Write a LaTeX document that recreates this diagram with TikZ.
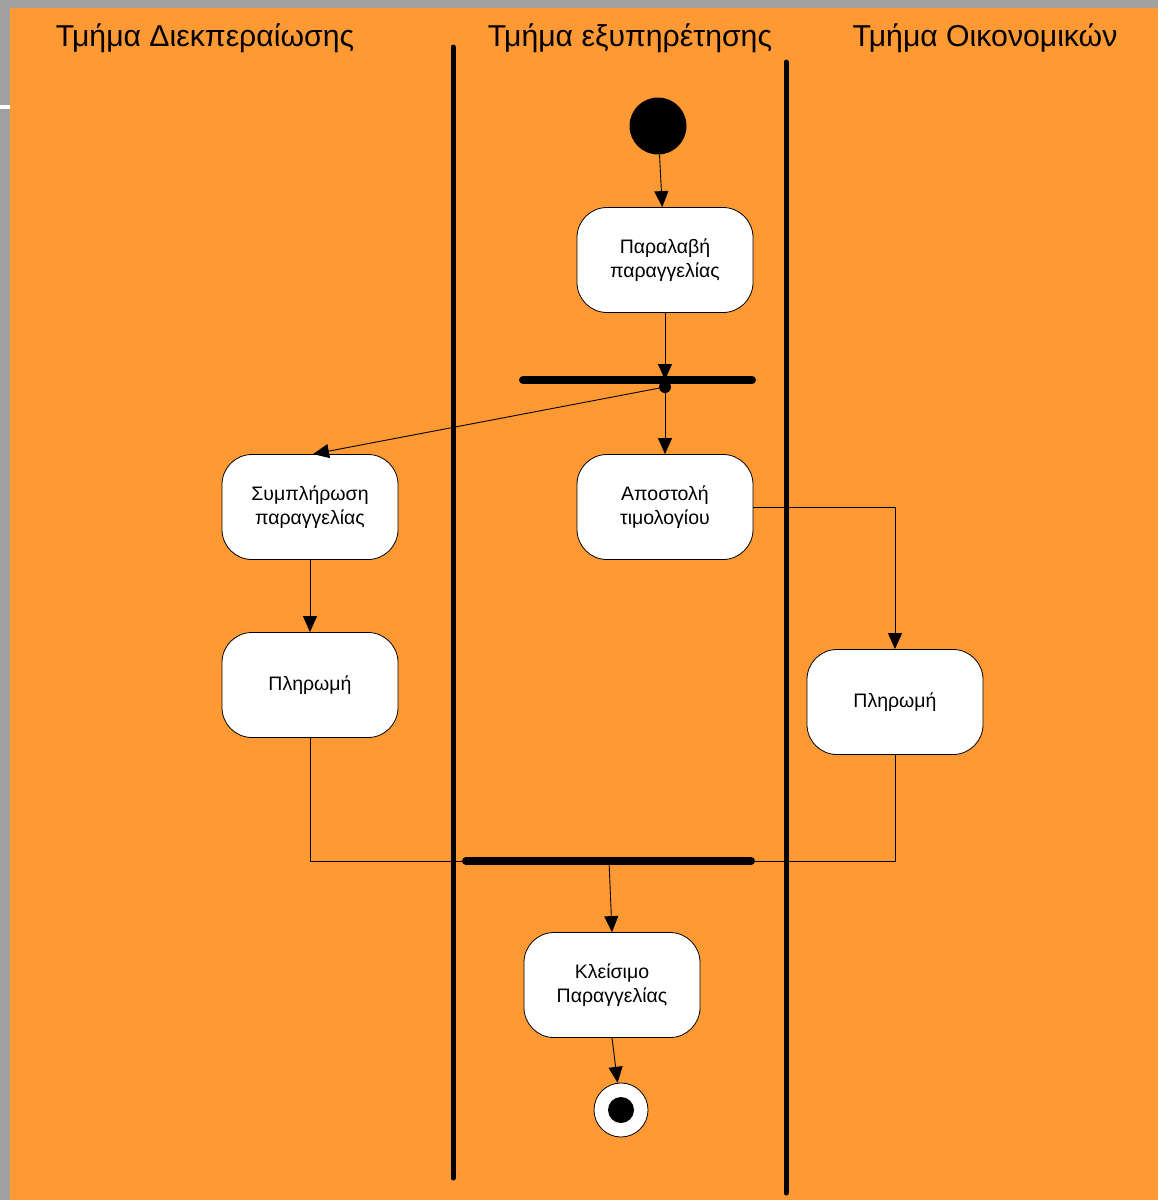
\documentclass[tikz,border=0pt]{standalone}
\usepackage{fontspec}
\setmainfont{Liberation Sans}
\usetikzlibrary{arrows.meta}
\definecolor{bgorange}{RGB}{255,153,51}
\definecolor{bggray}{RGB}{160,160,160}
\begin{document}
\begin{tikzpicture}[x=1pt,y=-1pt,
 act/.style={draw=black, fill=white, rounded corners=30pt, minimum width=176pt, minimum height=105pt, align=center, font=\fontsize{19.5}{24.5}\selectfont, line width=0.8pt, inner sep=0pt},
 flow/.style={line width=0.9pt, -{Triangle[length=16pt,width=14pt]}},
 plain/.style={line width=0.9pt},
 lane/.style={line width=5pt, line cap=round},
 bar/.style={line width=8pt, line cap=round},
 title/.style={font=\fontsize{30.2}{35}\selectfont, inner sep=0pt}]
\fill[bggray] (0,0) rectangle (1158,1200);
\fill[bgorange] (10,8) rectangle (1158,1200);
\fill[white] (0,105) rectangle (10,109);
\useasboundingbox (0,0) rectangle (1158,1200);

% titles
\node[title] (t1) at (205,38) {Τμήμα Διεκπεραίωσης};
\node[title] (t2) at (630,38) {Τμήμα εξυπηρέτησης};
\node[title] (t3) at (985,38) {Τμήμα Οικονομικών};

% coordinates
\coordinate (b1l) at (523,380);
\coordinate (b1r) at (752,380);
\coordinate (fork1) at (665,380);
\coordinate (b2l) at (466,861);
\coordinate (b2r) at (751,861);
\coordinate (j2) at (609,861);

% nodes
\node[circle, fill=black, minimum size=57pt, inner sep=0pt] (start) at (658,126) {};
\node[act] (recv) at (665,260) {Παραλαβή\\παραγγελίας};
\node[act] (send) at (665,507) {Αποστολή\\τιμολογίου};
\node[act] (compl) at (310,507) {Συμπλήρωση\\παραγγελίας};
\node[act] (pay1) at (310,685) {Πληρωμή};
\node[act] (pay2) at (895,702) {Πληρωμή};
\node[act] (close) at (612,985) {Κλείσιμο\\Παραγγελίας};
\node[circle, draw=black, fill=white, line width=0.8pt, minimum size=54pt, inner sep=0pt] (end) at (621,1110) {};
\node[circle, fill=black, minimum size=26pt, inner sep=0pt] (endin) at (end.center) {};
\node[circle, fill=black, minimum size=12pt, inner sep=0pt] (d1) at (665,387) {};

% connectors
\draw[flow] (start) -- (recv);
\draw[flow] (recv.south) -- (fork1);
\draw[flow] (d1) -- (send.north);
\draw[flow] (d1) -- ([xshift=3pt]compl.north);
\draw[flow] (send.east) -| (pay2.north);
\draw[flow] (compl) -- (pay1);
\draw[plain] (pay1.south) |- (b2l);
\draw[plain] (pay2.south) |- (b2r);
\draw[flow] (j2) -- (close.north);
\draw[flow] (close.south) -- (end);

% bars and lanes
\draw[bar] (b1l) -- (b1r);
\draw[bar] (b2l) -- (b2r);
\draw[lane] (453,47) -- (453,1178);
\draw[lane] (786,62) -- (786,1193);
\end{tikzpicture}
\end{document}
